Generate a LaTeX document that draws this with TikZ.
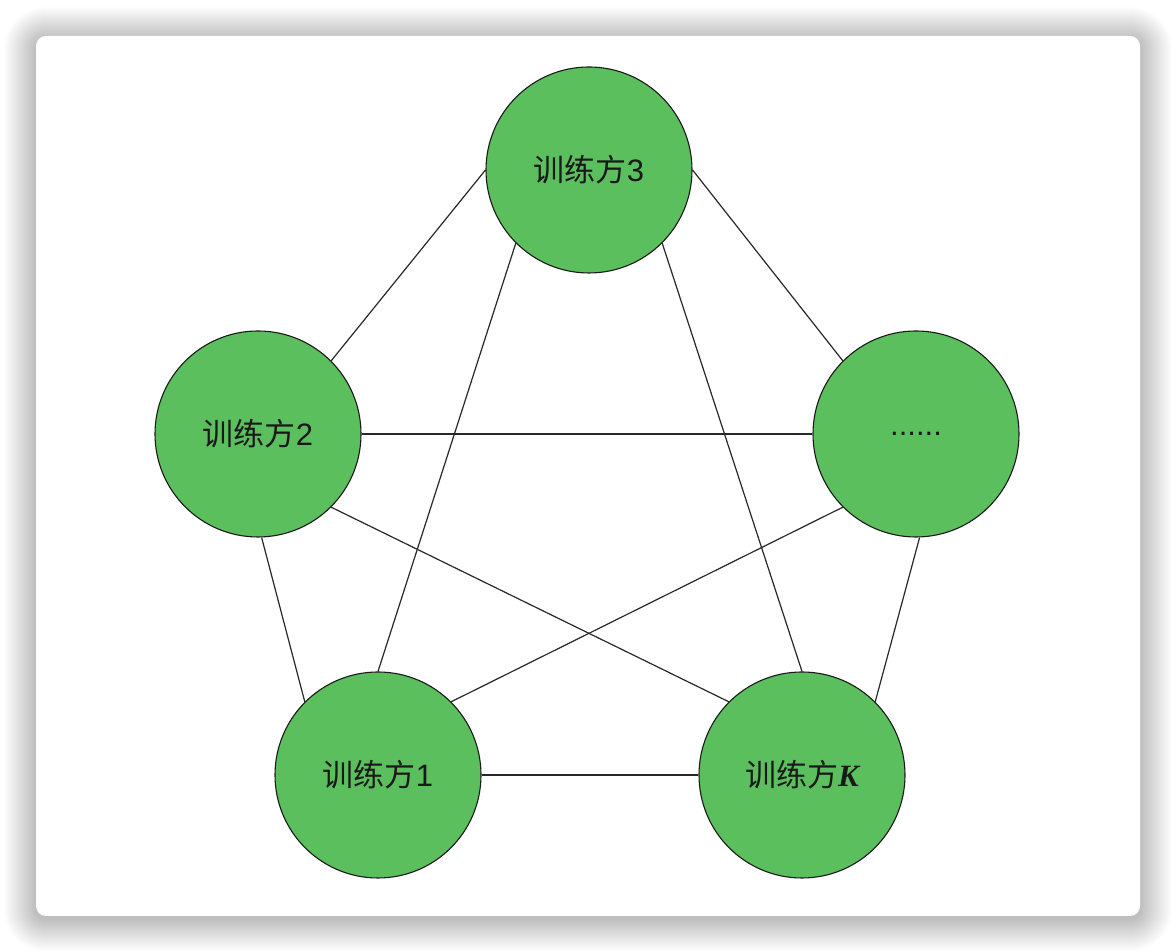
\documentclass[tikz,border=0pt]{standalone}
\usepackage{fontspec}
\newfontfamily\cjk{Noto Sans CJK SC}
\newfontfamily\latsans{Liberation Sans}
\newfontfamily\latserif{Liberation Serif}
\definecolor{nodegreen}{RGB}{91,191,93}
\definecolor{edgegray}{RGB}{40,40,40}
\definecolor{textdark}{RGB}{25,25,25}
\tikzset{
  party/.style={circle, draw=black!90, line width=1.1pt, fill=nodegreen,
    minimum size=206pt, inner sep=0pt, text=textdark, font=\fontsize{31}{36}\selectfont},
  link/.style={draw=edgegray, line width=1.2pt},
}
\begin{document}
\begin{tikzpicture}[x=1pt,y=1pt]
\useasboundingbox (0,0) rectangle (1176,952);
\fill[white] (0,0) rectangle (1176,952);
\foreach \i in {1,...,32}{
  \pgfmathsetmacro{\r}{10+\i}
  \fill[black, opacity=0.0065, rounded corners=\r pt] (36-\i,33-\i) rectangle (1140+\i,913+\i);
}
\fill[white, rounded corners=10pt] (36,36) rectangle (1140,916);
\node[party] (n3) at (589,782) {{\cjk 训练方}{\latsans 3}};
\node[party] (n2) at (258,518) {{\cjk 训练方}{\latsans 2}};
\node[party] (nd) at (916,518) {\latsans ......};
\node[party] (n1) at (378,177) {{\cjk 训练方}{\latsans 1}};
\node[party] (nK) at (802,177) {{\cjk 训练方}{\latserif\bfseries\itshape K}};
\path[link] (n3.west) -- (n2.north east);
\path[link] (n3.east) -- (nd.north west);
\path[link] (n3.south west) -- (n1.north);
\path[link] (n3.south east) -- (nK.north);
\path[link] (n2.east) -- (nd.west);
\path[link] (n2.-88) -- (n1.north west);
\path[link] (n2.south east) -- (nK.north west);
\path[link] (nd.south west) -- (n1.north east);
\path[link] (nd.-88) -- (nK.north east);
\path[link] (n1.east) -- (nK.west);
\end{tikzpicture}
\end{document}
